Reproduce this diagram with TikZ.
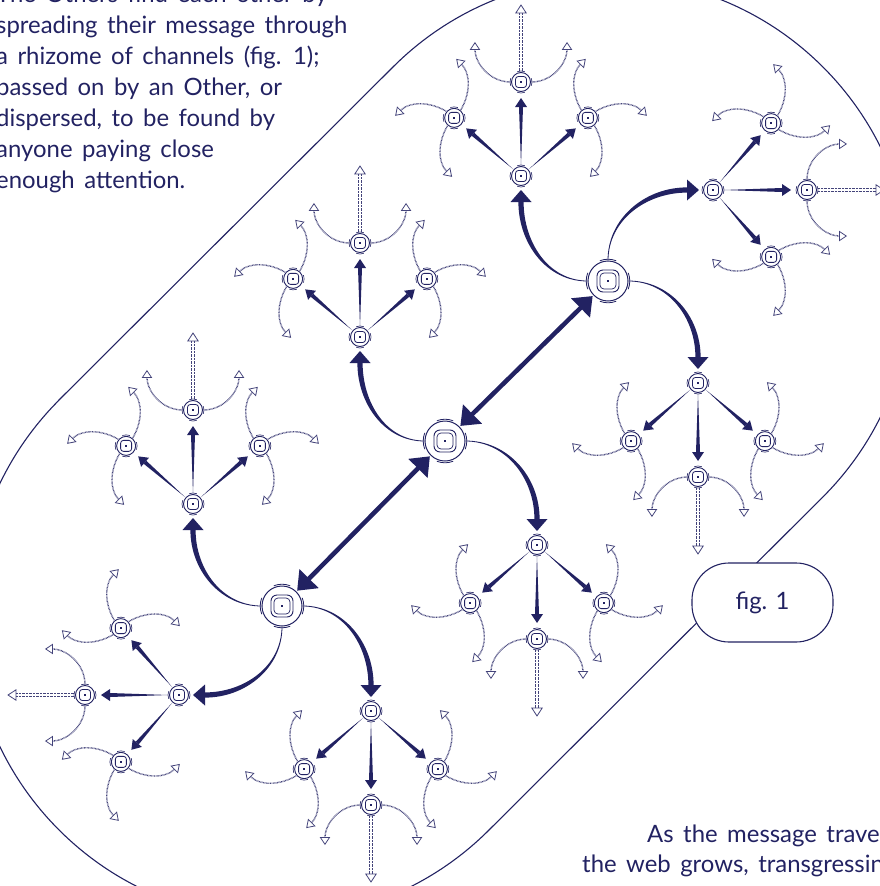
\documentclass[tikz,border=0pt]{standalone}
\usepackage{fontspec}
\setmainfont{Lato}[WordSpace=1.55]
\newfontfamily\figfont{Lato}
\usetikzlibrary{calc,arrows.meta}
\definecolor{navy}{RGB}{34,34,98}
\tikzset{
  snode/.style={circle, draw=navy, line width=0.9pt, minimum size=19pt, inner sep=0pt, outer sep=0pt, fill=white},
  hubnode/.style={circle, draw=navy, line width=1pt, minimum size=40pt, inner sep=0pt, outer sep=0pt, fill=white},
  dotline/.style={draw=navy!85, line width=1.4pt, dash pattern=on 0.7pt off 0.7pt},
  dotarr/.style={dotline, -{Triangle[open, length=8pt, width=10.5pt, line width=0.8pt]}},
  hubdbl/.style={draw=navy, line width=4.5pt, {Triangle[length=17pt,width=26pt]}-{Triangle[length=17pt,width=26pt]}, shorten <=1.5pt, shorten >=1.5pt},
  txt/.style={anchor=base west, inner sep=0pt, text=navy, font=\fontsize{23.9}{31}\selectfont},
  figbox/.style={draw=navy, line width=1.1pt, fill=white, rounded corners=37pt, minimum width=141pt, minimum height=79pt, text=navy, font=\figfont\fontsize{23.9}{31}\selectfont}
}
\newcommand{\sdeco}[1]{%
  \draw[navy, line width=0.8pt, rounded corners=2.8pt] ($(#1)+(-5.5,-5.5)$) rectangle ($(#1)+(5.5,5.5)$);
  \fill[navy] ($(#1)+(-0.8,-0.8)$) rectangle ($(#1)+(0.8,0.8)$);
  \foreach \q in {0,90,180,270}{\draw[navy, line width=0.6pt] ($(#1)+(\q-20:11)$) arc[start angle=\q-20, end angle=\q+20, radius=11];}
}
\newcommand{\hdeco}[1]{%
  \draw[navy, line width=0.9pt, rounded corners=6pt] ($(#1)+(-11,-11)$) rectangle ($(#1)+(11,11)$);
  \draw[navy, line width=0.7pt, rounded corners=4pt] ($(#1)+(-8,-8)$) rectangle ($(#1)+(8,8)$);
  \fill[navy] ($(#1)+(-0.7,-0.7)$) rectangle ($(#1)+(0.7,0.7)$);
  \foreach \q in {0,90,180,270}{\draw[navy, line width=0.8pt] ($(#1)+(\q-22:21.8)$) arc[start angle=\q-22, end angle=\q+22, radius=21.8];}
}
\newcommand{\taparr}[2]{%
  \coordinate (qS) at ($(#1)!10.5pt!(#2)$);
  \coordinate (qT) at ($(#2)!16pt!(#1)$);
  \coordinate (qA) at ($(#2)!25pt!(#1)$);
  \fill[navy] (qS) -- ($(qA)!2pt!90:(qT)$) -- ($(qA)!2pt!-90:(qT)$) -- cycle;
  \fill[navy] (qT) -- ($(qA)!6pt!90:(qT)$) -- ($(qA)!6pt!-90:(qT)$) -- cycle;
}
\newcommand{\hubarr}[3]{%
  \pgfmathsetmacro{\aA}{180+#3}\pgfmathsetmacro{\aB}{270+#3}%
  \pgfmathsetmacro{\aC}{90+#3}\pgfmathsetmacro{\aD}{#3}%
  \coordinate (tS) at ($(#1)+(\aA:20.5)$);
  \coordinate (tE) at ($(#2)+(\aB:26)$);
  \coordinate (tT) at ($(#2)+(\aB:14)$);
  \fill[navy] ($(tS)+(\aC:0.4)$) to[out=\aA, in=\aB] ($(tE)+(\aD:2.6)$) -- ($(tE)+(\aA:2.6)$) to[out=\aB, in=\aA] ($(tS)+(\aB:0.4)$) -- cycle;
  \fill[navy] (tT) -- ($(tE)+(\aD:10.5)$) -- ($(tE)+(\aA:10.5)$) -- cycle;
}
\newcommand{\darr}[7]{%
  \pgfmathsetmacro{\dS}{#3+#2}\pgfmathsetmacro{\dO}{#4+#2}%
  \pgfmathsetmacro{\dT}{#5+#2}\pgfmathsetmacro{\dI}{#7+#2}%
  \draw[dotarr] ($(#1)+(\dS:10.5)$) to[out=\dO, in=\dI] ($(#1)+(\dT:#6)$);
}
% hollow straight dotted arrow along direction #2 from node #1
\newcommand{\sarr}[2]{%
  \pgfmathsetmacro{\sF}{90+#2}\pgfmathsetmacro{\sP}{#2}\pgfmathsetmacro{\sQ}{180+#2}%
  \coordinate (sA) at ($(#1)+(\sF:11)$);
  \coordinate (sB) at ($(#1)+(\sF:69)$);
  \coordinate (sT) at ($(#1)+(\sF:77)$);
  \draw[dotline, line width=1pt] ($(sA)+(\sP:1.3)$) -- ($(sB)+(\sP:1.3)$);
  \draw[dotline, line width=1pt] ($(sA)+(\sQ:1.3)$) -- ($(sB)+(\sQ:1.3)$);
  \draw[navy!85, line width=0.8pt, line join=miter] (sT) -- ($(sB)+(\sP:5.2)$) -- ($(sB)+(\sQ:5.2)$) -- cycle;
}
\newcommand{\leafm}[2]{%
  \sarr{#1}{#2}%
  \darr{#1}{#2}{180}{180}{139}{61}{270}%
  \darr{#1}{#2}{0}{0}{41}{61}{270}%
}
\newcommand{\leafl}[2]{%
  \darr{#1}{#2}{50}{60}{88}{59}{315}%
  \darr{#1}{#2}{140}{150}{178}{59}{45}%
  \darr{#1}{#2}{230}{240}{268}{59}{135}%
}
\newcommand{\leafr}[2]{%
  \darr{#1}{#2}{130}{120}{92}{59}{225}%
  \darr{#1}{#2}{40}{30}{2}{59}{135}%
  \darr{#1}{#2}{310}{300}{272}{59}{45}%
}
\newcommand{\branch}[4]{%
  \node[snode] (#1) at (#2,#3) {};
  \pgfmathsetmacro{\bM}{90+#4}\pgfmathsetmacro{\bL}{139+#4}\pgfmathsetmacro{\bR}{41+#4}%
  \node[snode] (#1-m) at ($(#1)+(\bM:94)$) {};
  \node[snode] (#1-l) at ($(#1)+(\bL:88.6)$) {};
  \node[snode] (#1-r) at ($(#1)+(\bR:88.6)$) {};
  \taparr{#1}{#1-m}\taparr{#1}{#1-l}\taparr{#1}{#1-r}%
  \leafm{#1-m}{#4}\leafl{#1-l}{#4}\leafr{#1-r}{#4}%
  \sdeco{#1}\sdeco{#1-m}\sdeco{#1-l}\sdeco{#1-r}%
}
\begin{document}
\begin{tikzpicture}[x=1pt,y=1pt]
\useasboundingbox (0,0) rectangle (880,-886);
\clip (0,0) rectangle (880,-886);
% outline
\draw[navy, line width=1.1pt] (59,-400) -- (393,-67) arc[start angle=135, end angle=-45, radius=304] -- (489,-830) arc[start angle=-45, end angle=-225, radius=304] -- cycle;
\node[figbox] (fig) at (762.5,-602.5) {fig. 1};
% hubs
\node[hubnode] (h1) at (282,-606) {};
\node[hubnode] (h2) at (445,-441) {};
\node[hubnode] (h3) at (608,-281) {};
% branches
\branch{h3u}{521}{-176}{0}
\branch{h3r}{713}{-190}{-90}
\branch{h3d}{698}{-383}{180}
\branch{h2u}{360}{-337}{0}
\branch{h2d}{537}{-545}{180}
\branch{h1u}{193}{-504}{0}
\branch{h1l}{179}{-695}{90}
\branch{h1d}{371}{-711}{180}
% hub arrows
\hubarr{h3}{h3u}{0}
\hubarr{h3}{h3r}{-90}
\hubarr{h3}{h3d}{180}
\hubarr{h2}{h2u}{0}
\hubarr{h2}{h2d}{180}
\hubarr{h1}{h1u}{0}
\hubarr{h1}{h1l}{90}
\hubarr{h1}{h1d}{180}
\draw[hubdbl] (h1) -- (h2);
\draw[hubdbl] (h2) -- (h3);
\hdeco{h1}\hdeco{h2}\hdeco{h3}
% text
\node[txt] (t1) at (-4,-2) {The Others find each other by};
\node[txt] (t2) at (-4,-33) {spreading their message through};
\node[txt] (t3) at (-4,-64) {a rhizome of channels (fig. 1);};
\node[txt] (t4) at (-4,-95) {passed on by an Other, or};
\node[txt] (t5) at (-4,-126) {dispersed, to be found by};
\node[txt] (t6) at (-4,-157) {anyone paying close};
\node[txt] (t7) at (-4,-188) {enough attention.};
\node[txt] (t8) at (647,-842) {As the message travels};
\node[txt] (t9) at (582,-872) {the web grows, transgressing};
\end{tikzpicture}
\end{document}
